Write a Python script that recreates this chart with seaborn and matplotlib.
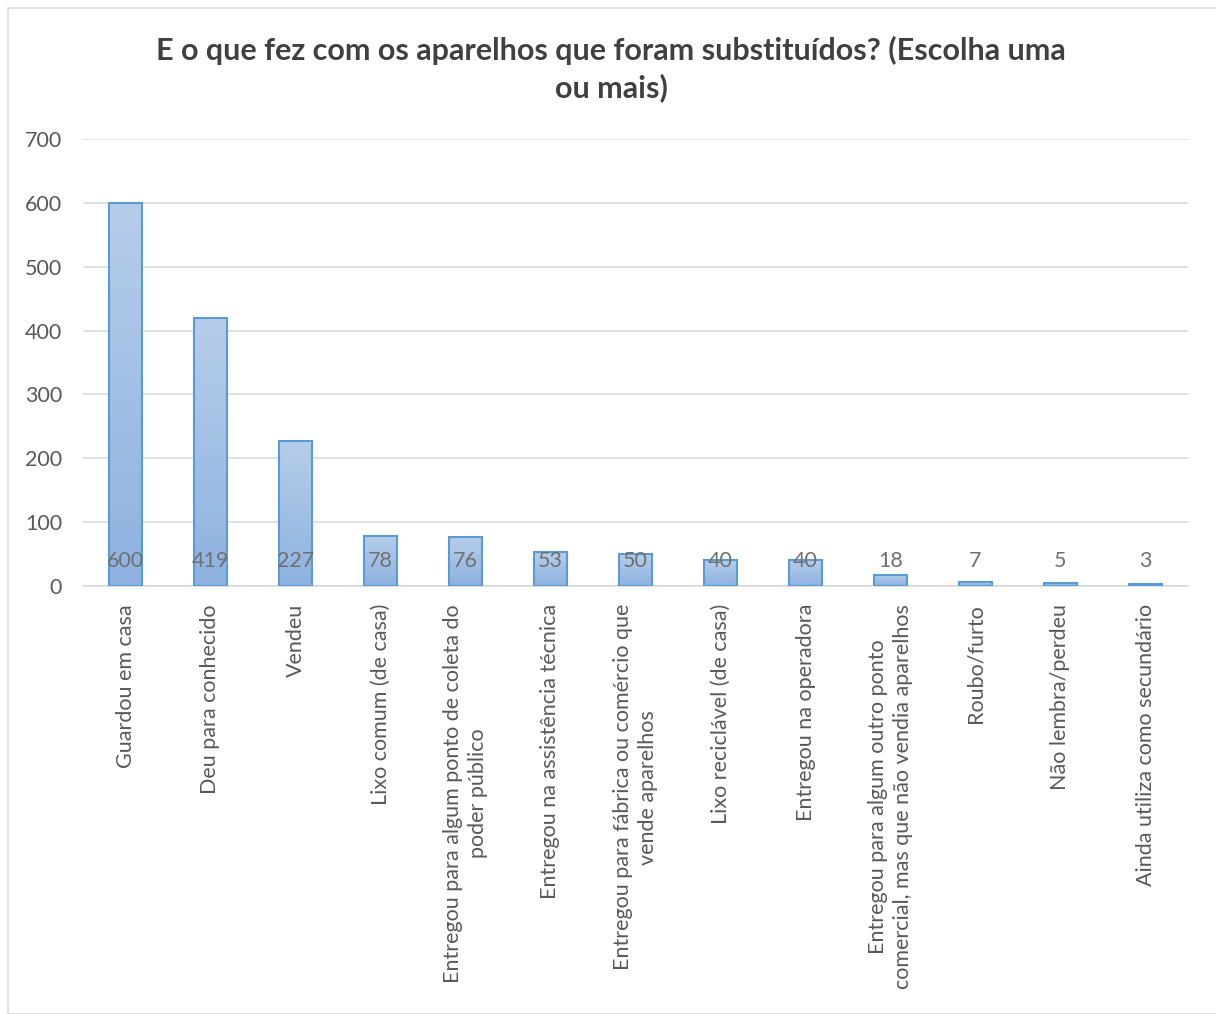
import numpy as np
import pandas as pd
import matplotlib
matplotlib.use("Agg")
import matplotlib.pyplot as plt
import seaborn as sns
from matplotlib.patches import Rectangle
from matplotlib.colors import LinearSegmentedColormap

categories = [
    "Guardou em casa",
    "Deu para conhecido",
    "Vendeu",
    "Lixo comum (de casa)",
    "Entregou para algum ponto de coleta do\npoder público",
    "Entregou na assistência técnica",
    "Entregou para fábrica ou comércio que\nvende aparelhos",
    "Lixo reciclável (de casa)",
    "Entregou na operadora",
    "Entregou para algum outro ponto\ncomercial, mas que não vendia aparelhos",
    "Roubo/furto",
    "Não lembra/perdeu",
    "Ainda utiliza como secundário",
]
values = [600, 419, 227, 78, 76, 53, 50, 40, 40, 18, 7, 5, 3]
yticks = [0, 100, 200, 300, 400, 500, 600, 700]
title = "E o que fez com os aparelhos que foram substituídos? (Escolha uma\nou mais)"

df = pd.DataFrame({"cat": categories, "val": values})

sns.set_theme(style="white")
plt.rcParams["font.family"] = ["Lato", "DejaVu Sans"]

fig = plt.figure(figsize=(12.16, 10.14), dpi=100)
ax = fig.add_axes([83 / 1216, 1 - 586 / 1014, (1188 - 83) / 1216, (586 - 139) / 1014])

sns.barplot(data=df, x="cat", y="val", ax=ax, width=0.39, color="#9dbde3",
            edgecolor="#5b9bd5", linewidth=1.5, zorder=3)

cmap = LinearSegmentedColormap.from_list("g", ["#8db2e0", "#b6cdea"])
grad = np.linspace(0, 1, 256).reshape(-1, 1)
for p in ax.patches:
    x0, y0 = p.get_x(), p.get_y()
    w, h = p.get_width(), p.get_height()
    im = ax.imshow(grad, cmap=cmap, origin="lower", aspect="auto",
                   extent=[x0, x0 + w, y0, y0 + h], zorder=3.5)
    im.set_clip_path(p)
    p.set_facecolor("none")
    p.set_zorder(4)

ax.set_xlim(-0.5, len(categories) - 0.5)
ax.set_ylim(0, 700)
ax.set_yticks(yticks)
ax.yaxis.grid(True, color="#d9d9d9", linewidth=1.2, zorder=0)
ax.set_axisbelow(True)
for s in ["top", "right", "left"]:
    ax.spines[s].set_visible(False)
ax.spines["bottom"].set_color("#d9d9d9")
ax.spines["bottom"].set_linewidth(1.2)
ax.set_xlabel("")
ax.set_ylabel("")
ax.tick_params(axis="y", length=0, labelsize=15.5, labelcolor="#595959", pad=15)
ax.tick_params(axis="x", length=0, labelsize=15.5, labelcolor="#595959", pad=13)
ax.set_xticks(range(len(categories)))
ax.set_xticklabels(categories, rotation=90, ha="center", va="top",
                   multialignment="center", linespacing=1.3)

for i, v in enumerate(values):
    ax.text(i, 39, str(v), ha="center", va="center", fontsize=15.5,
            color="#707070", zorder=6)

fig.text(611 / 1216, 1 - 69 / 1014, title, ha="center", va="center",
         fontsize=22, fontweight="bold", color="#404040", linespacing=1.35)

fig.patches.append(Rectangle((8 / 1216, 0), 1.2, 1 - 8 / 1014,
                             transform=fig.transFigure, fill=False,
                             edgecolor="#d9d9d9", linewidth=1.2))

fig.savefig("out.png", dpi=100, facecolor="white")
